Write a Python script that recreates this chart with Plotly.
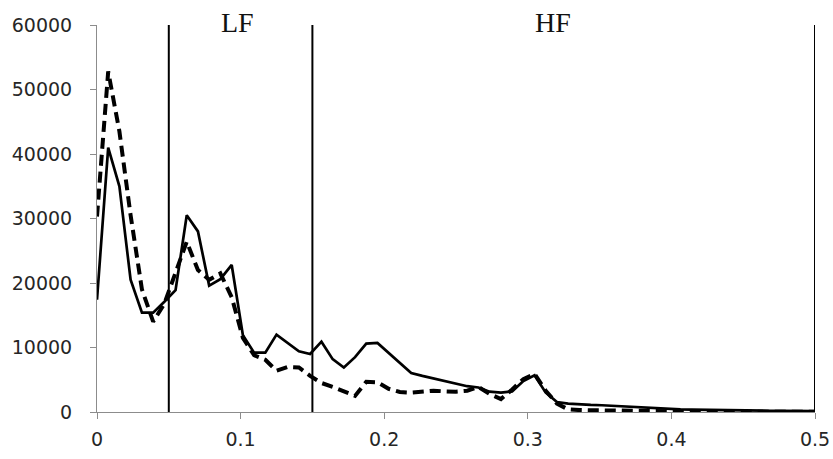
"""HRV power spectrum, two conditions, LF/HF bands marked."""

import plotly.graph_objects as go

# frequency bins (Hz), 1/128 spacing
FREQ = [
    0.0, 0.0078, 0.0156, 0.0234, 0.0313, 0.0391, 0.0469, 0.0547, 0.0625,
    0.0703, 0.0781, 0.0859, 0.0938, 0.1016, 0.1094, 0.1172, 0.125, 0.1328,
    0.1406, 0.1484, 0.1563, 0.1641, 0.1719, 0.1797, 0.1875, 0.1953, 0.2031,
    0.2109, 0.2188, 0.2266, 0.2344, 0.2422, 0.25, 0.2578, 0.2656, 0.2734,
    0.2813, 0.2891, 0.2969, 0.3047, 0.3125, 0.3203, 0.3281, 0.3359, 0.3438,
    0.3516, 0.3594, 0.3672, 0.375, 0.3828, 0.3906, 0.3984, 0.4063, 0.4141,
    0.4219, 0.4297, 0.4375, 0.4453, 0.4531, 0.4609, 0.4688, 0.4766, 0.4844,
    0.4922, 0.5,
]

POWER_SOLID = [
    17400, 41000, 35000, 20500, 15400, 15400, 17100, 18900, 30500,
    28000, 19600, 20600, 22800, 11900, 9200, 9200, 12000, 10700,
    9400, 9000, 10900, 8200, 6900, 8500, 10600, 10700, 9150,
    7600, 6050, 5600, 5200, 4800, 4350, 4000, 3800, 3150,
    3000, 3200, 4800, 5700, 3000, 1550, 1300, 1150, 1100,
    1050, 950, 830, 710, 630, 540, 470, 420, 370,
    330, 290, 260, 240, 220, 200, 190, 180, 170,
    160, 150,
]

POWER_DASHED = [
    30300, 52800, 43500, 30500, 19000, 14000, 16800, 21500, 26400,
    22000, 20500, 21500, 17800, 11500, 8800, 8100, 6400, 7000,
    6900, 5600, 4500, 3900, 3200, 2500, 4700, 4600, 3600,
    3100, 3000, 3100, 3300, 3200, 3150, 3300, 3900, 2800,
    2000, 3500, 5100, 5900, 3300, 1300, 400, 300, 260,
    230, 200, 180, 160, 140, 120, 110, 100, 90,
    80, 70, 60, 50, 50, 40, 40, 30, 30,
    20, 20,
]

BAND_EDGES = [0.05, 0.15, 0.5]
BAND_LABELS = ["LF", "HF"]
BAND_LABEL_X = [0.098, 0.3175]

X_TICKS = [0, 0.1, 0.2, 0.3, 0.4, 0.5]
X_TICKTEXT = ["0", "0.1", "0.2", "0.3", "0.4", "0.5"]
Y_TICKS = [0, 10000, 20000, 30000, 40000, 50000, 60000]

AXIS_GREY = "#8c8c8c"
TICK_FONT = dict(family="DejaVu Sans", size=19, color="#262626")

fig = go.Figure()

fig.add_trace(
    go.Scatter(
        x=FREQ,
        y=POWER_SOLID,
        mode="lines",
        line=dict(color="black", width=2.7),
        showlegend=False,
    )
)
fig.add_trace(
    go.Scatter(
        x=FREQ,
        y=POWER_DASHED,
        mode="lines",
        line=dict(color="black", width=4, dash="11px,6px"),
        showlegend=False,
    )
)

for edge in BAND_EDGES:
    fig.add_shape(
        type="line",
        xref="x",
        yref="y",
        x0=edge,
        x1=edge,
        y0=Y_TICKS[0],
        y1=Y_TICKS[-1],
        line=dict(color="black", width=2),
    )

# labels sit just above the plot top, so place them in paper y
for label, lx in zip(BAND_LABELS, BAND_LABEL_X):
    fig.add_annotation(
        x=lx,
        y=1.006,
        xref="x",
        yref="paper",
        text=label,
        showarrow=False,
        xanchor="center",
        yanchor="middle",
        font=dict(family="Liberation Serif", size=28, color="#111111"),
    )

fig.update_layout(
    width=833,
    height=459,
    paper_bgcolor="white",
    plot_bgcolor="white",
    margin=dict(l=97, r=18, t=25, b=47),
    xaxis=dict(
        range=[0, 0.5],
        tickvals=X_TICKS,
        ticktext=X_TICKTEXT,
        showgrid=False,
        zeroline=False,
        showline=True,
        linecolor=AXIS_GREY,
        linewidth=1,
        ticks="outside",
        ticklen=6,
        tickcolor=AXIS_GREY,
        tickfont=TICK_FONT,
        ticklabelstandoff=4,
        ticklabeloverflow="allow",
        automargin=False,
    ),
    yaxis=dict(
        range=[0, 60000],
        tickvals=Y_TICKS,
        tickformat="d",
        showgrid=False,
        zeroline=False,
        showline=True,
        linecolor=AXIS_GREY,
        linewidth=1,
        ticks="outside",
        ticklen=6,
        tickcolor=AXIS_GREY,
        tickfont=TICK_FONT,
        ticklabelstandoff=14,
        automargin=False,
    ),
)

# drop the default 8px body margin so the 833x459 figure fills the window
fig.write_html(
    "out.html",
    config={"displayModeBar": False},
    post_script="document.body.style.margin='0';",
)
